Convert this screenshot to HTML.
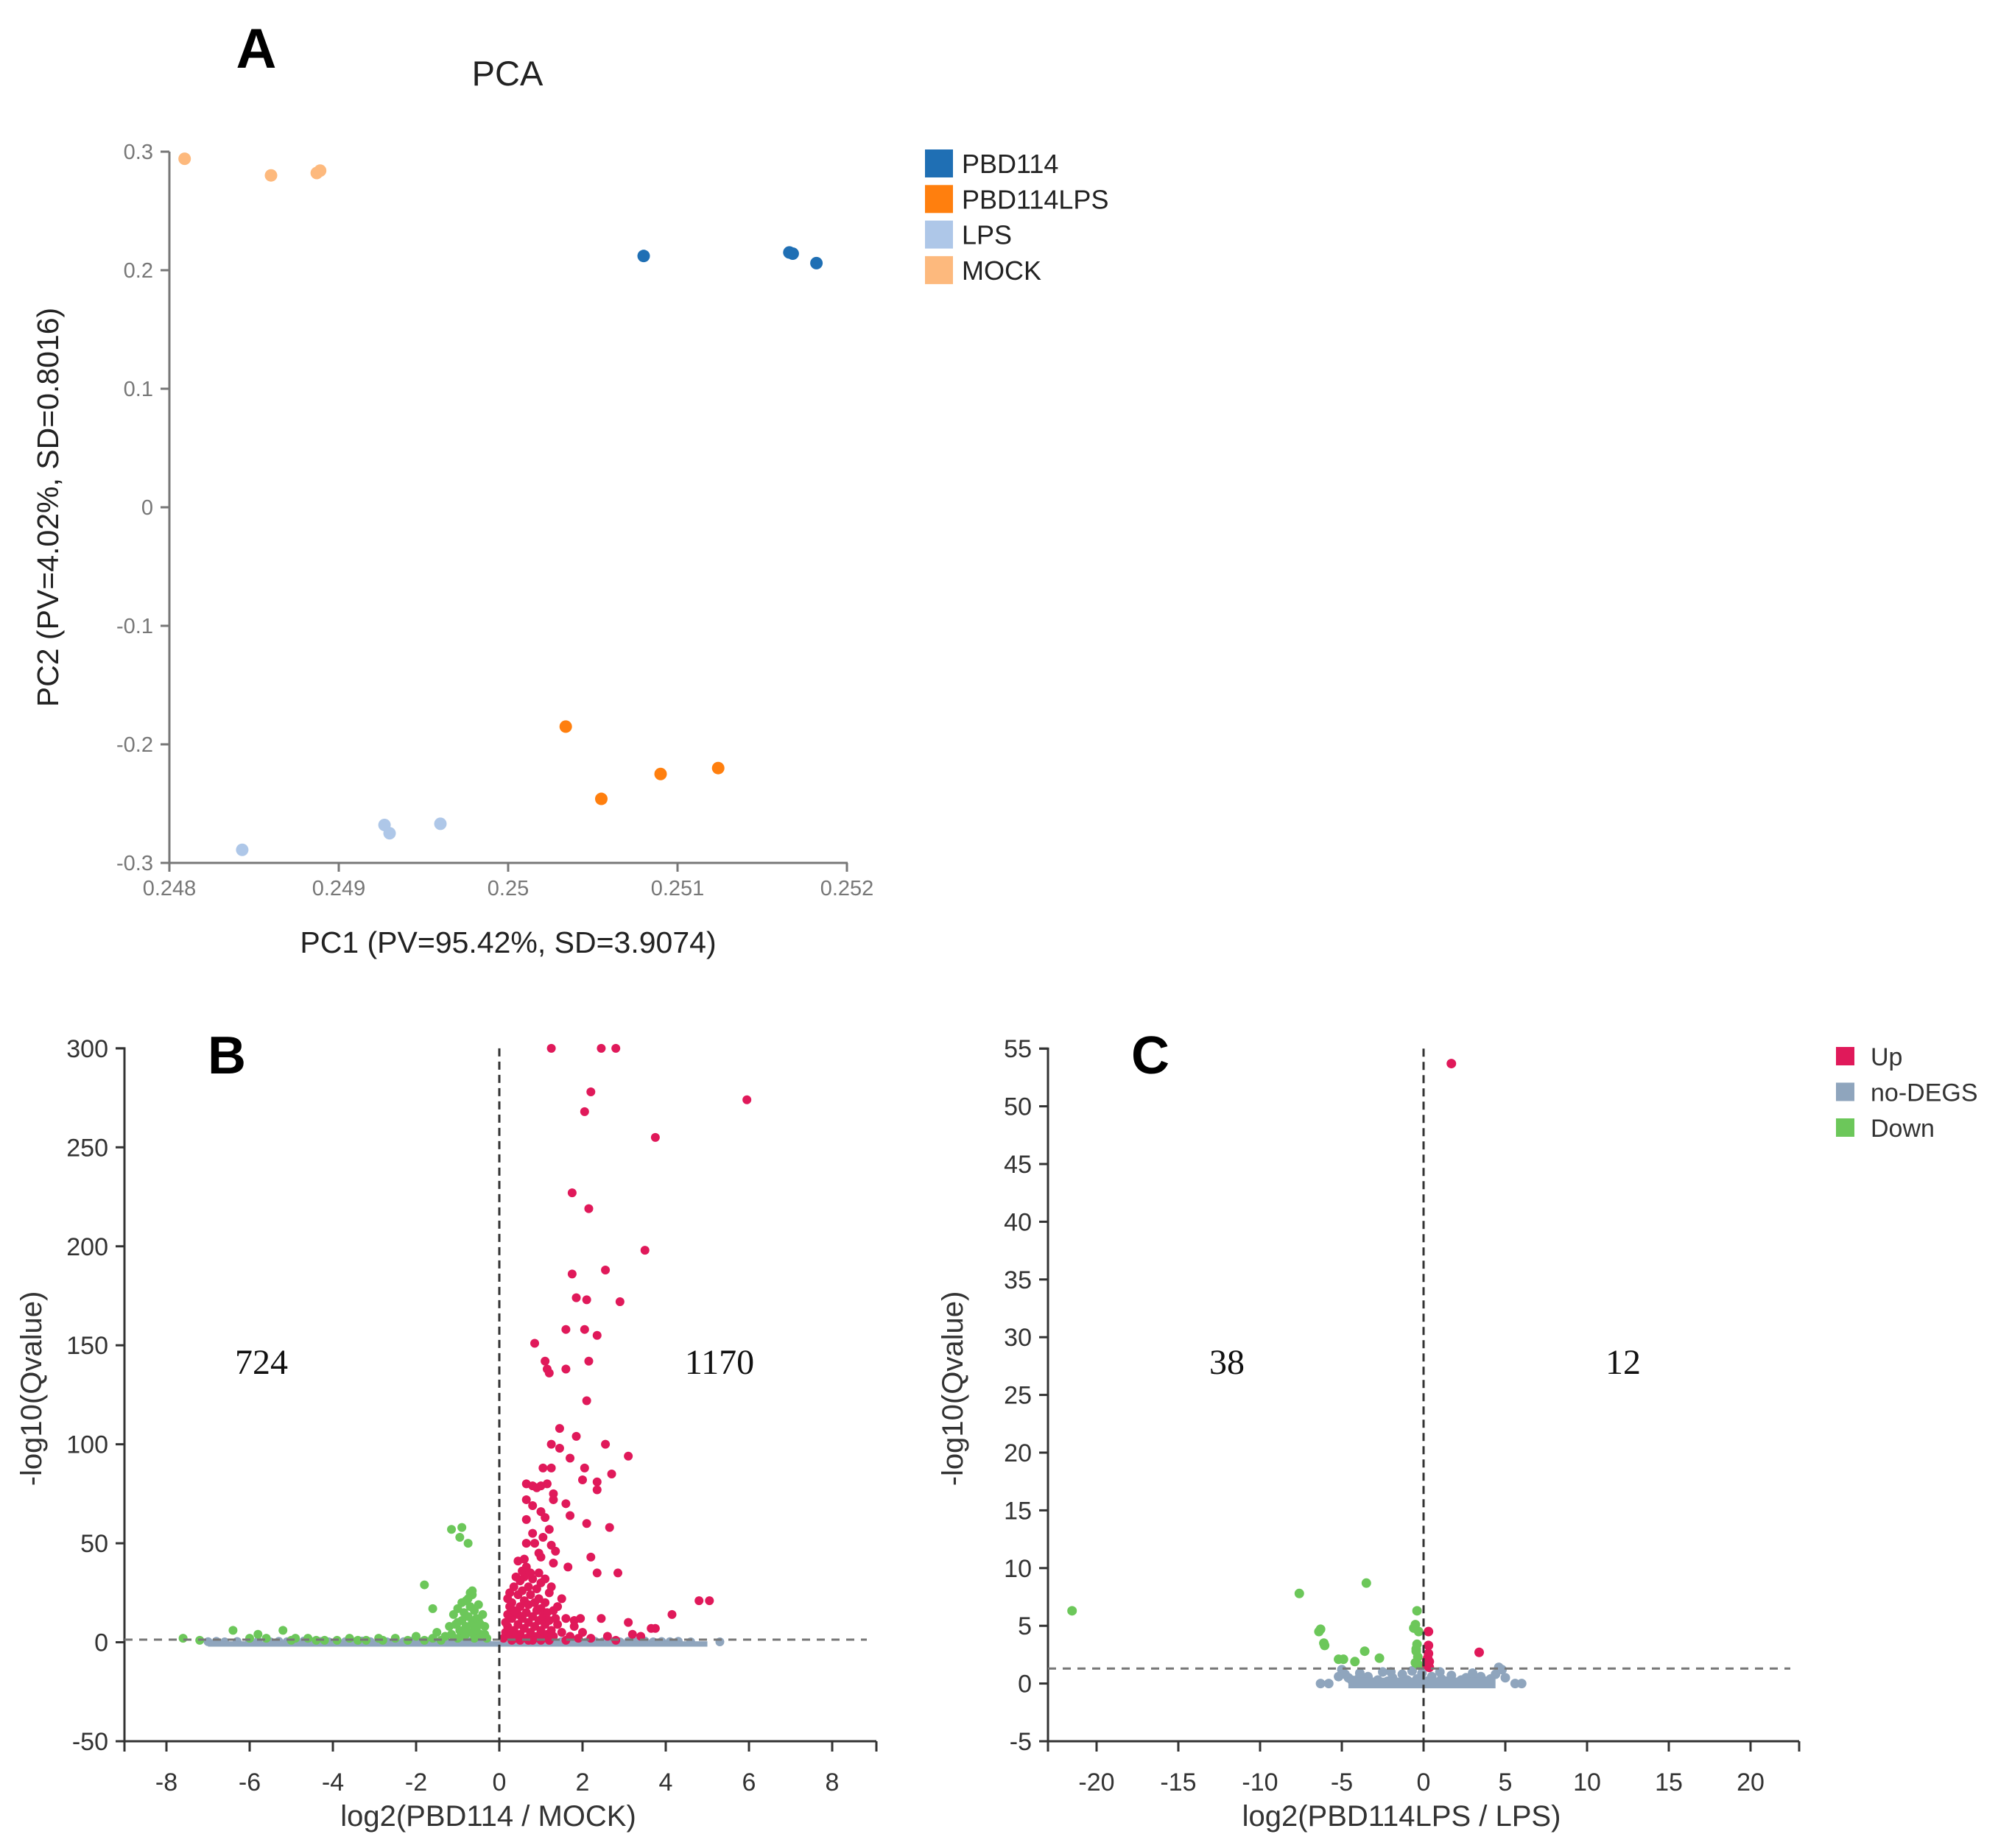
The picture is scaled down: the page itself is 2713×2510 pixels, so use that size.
<!DOCTYPE html>
<html><head><meta charset="utf-8"><style>
html,body{margin:0;padding:0;background:#fff;}
svg{display:block;font-family:"Liberation Sans",sans-serif;}
</style></head><body>
<svg id="fig" width="2713" height="2510" viewBox="0 0 2713 2510" xmlns="http://www.w3.org/2000/svg">
<rect width="2713" height="2510" fill="#fff"/>
<g id="pA"></g>
<g id="pB"></g>
<g id="pC"></g>
</svg>
<script>
// ---------- Panel A data ----------
const pcaGroups = ["PBD114","PBD114LPS","LPS","MOCK"];
const pcaColors = ["#1f6fb4","#ff7f0e","#aec7e8","#fdb97d"];
const pcaPBD114 = [[0.2508,0.212],[0.25166,0.215],[0.25168,0.214],[0.25182,0.206]];
const pcaPBD114LPS = [[0.25034,-0.185],[0.25055,-0.246],[0.2509,-0.225],[0.25124,-0.220]];
const pcaLPS = [[0.24843,-0.289],[0.24927,-0.268],[0.2493,-0.275],[0.2496,-0.267]];
const pcaMOCK = [[0.24809,0.294],[0.2486,0.280],[0.24887,0.282],[0.24889,0.284]];
const pcaXTicks = [0.248,0.249,0.25,0.251,0.252];
const pcaXTickLabels = ["0.248","0.249","0.25","0.251","0.252"];
const pcaYTicks = [0.3,0.2,0.1,0,-0.1,-0.2,-0.3];
const pcaYTickLabels = ["0.3","0.2","0.1","0","-0.1","-0.2","-0.3"];

// ---------- Panel B data ----------
const bXTicks = [-8,-6,-4,-2,0,2,4,6,8];
const bYTicks = [300,250,200,150,100,50,0,-50];
const bCounts = ["724","1170"];
const bUp = [[1.25,300],[2.45,300],[2.8,300],[2.2,278],[2.05,268],[5.95,274],[3.75,255],[1.75,227],[2.15,219],[3.5,198],[1.75,186],[2.55,188],[1.85,174],[2.1,173],[2.9,172],[1.6,158],[2.05,158],[2.35,155],[0.85,151],[1.1,142],[1.15,138],[1.2,136],[1.6,138],[2.15,142],[2.1,122],[1.45,108],[1.85,104],[1.25,100],[2.55,100],[1.45,98],[1.7,93],[3.1,94],[1.05,88],[1.25,88],[2.05,88],[2.7,85],[2.0,82],[2.35,81],[2.35,77],[0.65,80],[0.8,79],[0.9,78],[1.0,79],[1.15,80],[1.3,75],[0.65,72],[0.8,69],[1.3,72],[0.65,62],[1.0,66],[1.1,63],[1.6,70],[1.7,64],[2.1,60],[1.2,57],[0.8,55],[1.05,53],[0.65,50],[0.85,50],[1.25,49],[2.65,58],[0.95,45],[1.35,46],[0.45,41],[0.6,42],[1.0,43],[1.3,40],[1.65,38],[2.2,43],[2.35,35],[2.85,35],[4.8,21],[5.05,21],[4.15,14],[3.75,7],[3.65,7],[3.1,10],[2.45,12],[1.8,11],[1.95,12],
[0.1,2],[0.15,5],[0.2,8],[0.25,3],[0.3,12],[0.3,20],[0.35,6],[0.35,28],[0.4,15],[0.4,2],[0.45,24],[0.45,9],[0.5,31],[0.5,18],[0.5,4],[0.55,12],[0.55,26],[0.6,7],[0.6,21],[0.6,33],[0.65,15],[0.65,2],[0.7,10],[0.7,28],[0.7,19],[0.75,5],[0.75,24],[0.8,13],[0.8,32],[0.85,8],[0.85,20],[0.9,3],[0.9,16],[0.9,27],[0.95,11],[0.95,22],[1.0,6],[1.0,17],[1.0,30],[1.05,2],[1.05,13],[1.1,9],[1.1,20],[1.15,15],[1.15,4],[1.2,25],[1.2,11],[1.25,6],[1.3,16],[1.3,3],[1.4,9],[1.5,22],[1.5,5],[1.6,12],[1.7,3],[1.8,8],[1.9,2],[2.0,5],[0.2,14],[0.25,18],[0.15,10],[0.55,36],[0.65,38],[0.75,35],[0.4,33],[0.95,35],[1.1,32],[1.25,28],[1.4,18],[0.5,1],[0.8,1],[1.2,1],[1.6,1],[2.2,2],[2.6,3],[2.8,1],[3.4,3],[3.2,4],[0.3,1],[0.45,14],[0.7,1],[1.0,1],[1.35,12],[0.25,25],[0.2,22],[0.35,16]];
const bDown = [[-1.15,57],[-0.9,58],[-0.95,53],[-0.75,50],[-1.8,29],[-1.6,17],[-0.65,26],[-0.7,25],
[-0.3,2],[-0.35,8],[-0.4,14],[-0.45,4],[-0.5,11],[-0.5,19],[-0.55,6],[-0.6,16],[-0.6,2],[-0.65,24],[-0.65,10],[-0.7,5],[-0.7,18],[-0.75,13],[-0.75,22],[-0.8,8],[-0.8,21],[-0.85,3],[-0.85,15],[-0.9,11],[-0.9,20],[-0.95,6],[-1.0,17],[-1.0,2],[-1.05,9],[-1.1,14],[-1.15,4],[-1.2,8],[-1.3,3],[-1.4,1],[-1.6,2],[-1.8,1],[-2.0,3],[-2.2,1],[-2.5,2],[-2.8,1],[-3.2,1],[-3.6,2],[-3.9,1],[-4.2,1],[-4.6,2],[-5.0,1],[-5.2,6],[-5.6,2],[-5.8,4],[-6.0,2],[-6.4,6],[-7.2,1],[-7.6,2],[-4.9,2],[-4.4,1],[-3.4,1],[-2.9,2],[-1.5,5],[-0.55,12],[-0.45,9],[-0.35,4],[-0.6,8],[-0.8,4],[-1.0,10]];
const bGray = [[-7.0,0.3],[-6.8,0.5],[-6.6,0.2],[-6.3,0.4],[-6.0,0.3],[-5.8,0.6],[-5.5,0.2],[-5.3,0.5],[-5.1,0.3],[-4.9,0.2],[-4.7,0.6],[-4.5,0.3],[-4.3,0.4],[-4.1,0.2],[-3.9,0.5],[-3.7,0.3],[-3.5,0.2],[-3.3,0.6],[-3.1,0.3],[-2.9,0.4],[-2.7,0.2],[-2.5,0.5],[-2.3,0.3],[-2.1,0.6],[-1.9,0.2],[-1.7,0.4],[-1.5,0.3],[-1.3,0.5],[-1.1,0.2],[-0.9,0.6],[-0.7,0.3],[-0.5,0.5],[-0.3,0.2],[0.3,0.4],[0.5,0.2],[0.7,0.6],[0.9,0.3],[1.1,0.5],[1.3,0.2],[1.5,0.4],[1.7,0.3],[1.9,0.6],[2.1,0.2],[2.3,0.5],[2.5,0.3],[2.7,0.4],[2.9,0.2],[3.1,0.5],[3.3,0.3],[3.5,0.6],[3.7,0.2],[3.9,0.4],[4.1,0.3],[4.3,0.5],[4.6,0.2],[5.3,0.2]];

// ---------- Panel C data ----------
const cXTicks = [-20,-15,-10,-5,0,5,10,15,20];
const cYTicks = [55,50,45,40,35,30,25,20,15,10,5,0,-5];
const cCounts = ["38","12"];
const cLegend = ["Up","no-DEGS","Down"];
const cLegendColors = ["#e0195a","#8fa5bd","#6cc75a"];
const cUp = [[1.7,53.7],[3.4,2.7],[0.3,4.5],[0.3,3.3],[0.25,2.2],[0.35,1.9],[0.3,1.5],[0.2,1.6],[0.3,2.6],[0.25,1.8],[0.35,1.4],[0.2,2.0]];
const cDown = [[-21.5,6.3],[-7.6,7.8],[-3.5,8.7],[-6.3,4.7],[-6.4,4.5],[-6.1,3.5],[-6.05,3.3],[-5.2,2.1],[-4.9,2.1],[-4.2,1.9],[-3.6,2.8],[-2.7,2.2],[-0.4,6.3],[-0.6,4.8],[-0.5,5.1],[-0.3,4.5],[-0.4,3.4],[-0.45,3.0],[-0.35,2.3],[-0.5,1.8],[-0.3,1.6],[-0.45,2.8]];
const cGray = [[-6.3,0],[-5.8,0],[-5.0,1.2],[-4.8,0.8],[-4.6,0.5],[-4.4,0.3],[-4.2,0.1],[-4.0,0.4],[-3.7,0.2],[-3.4,0.6],[-3.1,0.1],[-2.8,0.3],[-2.5,1.0],[-2.2,0.2],[-1.9,0.5],[-1.6,0.1],[-1.3,0.8],[-1.0,0.3],[-0.7,1.1],[-0.4,0.4],[-0.1,0.9],[0.2,0.2],[0.5,0.6],[0.8,0.1],[1.1,0.4],[1.4,0.2],[1.7,0.7],[2.0,0.1],[2.3,0.3],[2.6,0.5],[2.9,0.1],[3.2,0.3],[3.5,0.6],[3.8,0.2],[4.1,0.4],[4.4,0.8],[4.6,1.4],[4.8,1.2],[5.0,0.5],[5.6,0],[6.0,0],[-5.2,0.6],[-3.9,0.9],[-2.0,1.0],[1.0,1.0],[3.0,0.9]];

const NS = "http://www.w3.org/2000/svg";
function mk(parent, tag, attrs, text){
  const e = document.createElementNS(NS, tag);
  for (const k in attrs) e.setAttribute(k, attrs[k]);
  if (text !== undefined) e.textContent = text;
  parent.appendChild(e);
  return e;
}

// ===== Panel A =====
(function(){
  const g = document.getElementById('pA');
  const xs = v => 230 + (v - 0.248) * 230000;
  const ys = v => 1172 - (v + 0.3) * 1610;
  const t1 = mk(g,'text',{x:348,y:92,'font-size':76,'font-weight':'bold','text-anchor':'middle',fill:'#000'},'A');
  
  
  const t2 = mk(g,'text',{x:689,y:116,'font-size':47,'text-anchor':'middle',fill:'#222'},'PCA');
  
  
  const ax = mk(g,'path',{d:`M230 ${ys(0.3)} V1172 H1151`,stroke:'#777',fill:'none','stroke-width':3});
  
  
  pcaYTicks.forEach((v,i)=>{
    mk(g,'line',{x1:218,x2:230,y1:ys(v),y2:ys(v),stroke:'#777','stroke-width':3});
    const t = mk(g,'text',{x:208,y:ys(v)+10,'font-size':29,'text-anchor':'end',fill:'#777'},pcaYTickLabels[i]);
    
    
  });
  pcaXTicks.forEach((v,i)=>{
    mk(g,'line',{x1:xs(v),x2:xs(v),y1:1172,y2:1184,stroke:'#777','stroke-width':3});
    const t = mk(g,'text',{x:xs(v),y:1216,'font-size':29,'text-anchor':'middle',fill:'#777'},pcaXTickLabels[i]);
    
    
  });
  const xt = mk(g,'text',{x:690,y:1294,'font-size':41,'text-anchor':'middle',fill:'#222'},'PC1 (PV=95.42%, SD=3.9074)');
  
  
  const yt = mk(g,'text',{x:0,y:0,'font-size':41,'text-anchor':'middle',fill:'#222',transform:'translate(79,689) rotate(-90)'},'PC2 (PV=4.02%, SD=0.8016)');
  
  
  const series = [pcaPBD114,pcaPBD114LPS,pcaLPS,pcaMOCK];
  series.forEach((s,si)=>{
    s.forEach(p=>{
      const c = mk(g,'circle',{cx:xs(p[0]),cy:ys(p[1]),r:8.5,fill:pcaColors[si]});
      
      
    });
  });
  pcaGroups.forEach((name,i)=>{
    const y = 203 + i*48.3;
    const lg = mk(g,'g',{});
    
    
    mk(lg,'rect',{x:1256,y:y,width:38,height:38,fill:pcaColors[i]});
    mk(lg,'text',{x:1306,y:y+32,'font-size':36,fill:'#222'},name);
  });
})();

// ===== Volcano helper =====
function volcano(g, opt){
  const xs = v => opt.x0 + v*opt.xu;
  const ys = v => 2365 - (v - opt.ymin)*opt.yu;
  const top = ys(opt.ymax);
  const ax = mk(g,'path',{d:`M${opt.axL-12} ${top} H${opt.axL} V2365 H${opt.axR}`,stroke:'#333',fill:'none','stroke-width':3});
  
  
  opt.yTicks.forEach(v=>{
    mk(g,'line',{x1:opt.axL-12,x2:opt.axL,y1:ys(v),y2:ys(v),stroke:'#333','stroke-width':3});
    const t = mk(g,'text',{x:opt.axL-22,y:ys(v)+12,'font-size':34,'text-anchor':'end',fill:'#333'},String(v));
    
    
  });
  mk(g,'line',{x1:opt.axL,x2:opt.axL,y1:2365,y2:2379,stroke:'#333','stroke-width':3});
  mk(g,'line',{x1:opt.axR,x2:opt.axR,y1:2365,y2:2379,stroke:'#333','stroke-width':3});
  opt.xTicks.forEach(v=>{
    mk(g,'line',{x1:xs(v),x2:xs(v),y1:2365,y2:2379,stroke:'#333','stroke-width':3});
    const t = mk(g,'text',{x:xs(v),y:2432,'font-size':34,'text-anchor':'middle',fill:'#333'},String(v));
    
    
  });
  const gray = opt.gray, up = opt.up, down = opt.down;
  gray.forEach(p=>{
    const c = mk(g,'circle',{cx:xs(p[0]),cy:ys(p[1]),r:opt.r,fill:'#8fa5bd'});
    
    
  });
  const band = mk(g,'rect',{x:xs(opt.bandL),y:ys(opt.bandH),width:xs(opt.bandR)-xs(opt.bandL),height:ys(0)-ys(opt.bandH)+opt.r,fill:'#8fa5bd'});
  
  
  down.forEach(p=>{
    const c = mk(g,'circle',{cx:xs(p[0]),cy:ys(p[1]),r:opt.r,fill:'#6cc75a'});
    
    
  });
  up.forEach(p=>{
    const c = mk(g,'circle',{cx:xs(p[0]),cy:ys(p[1]),r:opt.r,fill:'#e0195a'});
    
    
  });
  const hd = mk(g,'line',{x1:opt.axL,x2:opt.hEnd,y1:ys(1.3),y2:ys(1.3),stroke:'#777','stroke-width':3,'stroke-dasharray':'11 9'});
  
  
  const vd = mk(g,'line',{x1:xs(0),x2:xs(0),y1:top,y2:2365,stroke:'#333','stroke-width':3,'stroke-dasharray':'11 7'});
  
  
  const l = mk(g,'text',{x:opt.letterX,y:1458,'font-size':72,'font-weight':'bold','text-anchor':'middle',fill:'#000'},opt.letter);
  
  
  const c1 = mk(g,'text',{x:opt.cnt1X,y:1866,'font-size':48,'font-family':'Liberation Serif, serif','text-anchor':'middle',fill:'#111'},opt.counts[0]);
  
  
  const c2 = mk(g,'text',{x:opt.cnt2X,y:1866,'font-size':48,'font-family':'Liberation Serif, serif','text-anchor':'middle',fill:'#111'},opt.counts[1]);
  
  
  const xt = mk(g,'text',{x:opt.xTitleX,y:2480,'font-size':40,'text-anchor':'middle',fill:'#333'},opt.xTitle);
  
  
  const yt = mk(g,'text',{x:0,y:0,'font-size':40,'text-anchor':'middle',fill:'#333',transform:`translate(${opt.yTitleX},1886) rotate(-90)`},'-log10(Qvalue)');
  
  
}

volcano(document.getElementById('pB'),{id:'b',x0:678,xu:56.5,ymin:-50,ymax:300,yu:2.689,axL:169,axR:1190,hEnd:1177,
  xTicks:bXTicks,yTicks:bYTicks,up:bUp,down:bDown,gray:bGray,r:6,bandL:-7,bandR:5,bandH:0.5,
  letter:'B',letterX:308,cnt1X:355,cnt2X:977,counts:bCounts,xTitle:'log2(PBD114 / MOCK)',xTitleX:663,yTitleX:56});

volcano(document.getElementById('pC'),{id:'c',x0:1933,xu:22.2,ymin:-5,ymax:55,yu:15.68,axL:1423,axR:2443,hEnd:2431,
  xTicks:cXTicks,yTicks:cYTicks,up:cUp,down:cDown,gray:cGray,r:6.5,bandL:-4.6,bandR:4.4,bandH:0.5,
  letter:'C',letterX:1562,cnt1X:1666,cnt2X:2204,counts:cCounts,xTitle:'log2(PBD114LPS / LPS)',xTitleX:1903,yTitleX:1307});

(function(){
  const g = document.getElementById('pC');
  cLegend.forEach((name,i)=>{
    const y = 1422 + i*48.5;
    const lg = mk(g,'g',{});
    
    
    mk(lg,'rect',{x:2493,y:y,width:25,height:25,fill:cLegendColors[i]});
    mk(lg,'text',{x:2540,y:y+25,'font-size':34,fill:'#333'},name);
  });
})();
</script>
</body></html>
